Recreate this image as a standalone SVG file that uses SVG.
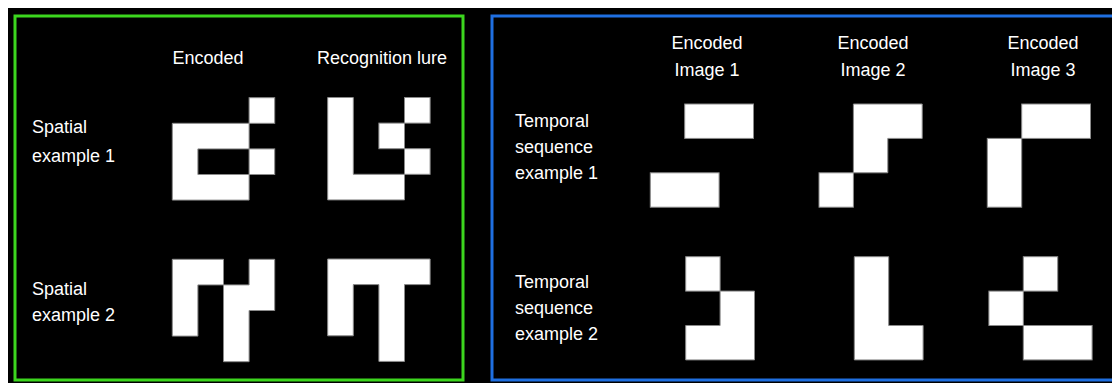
<svg xmlns="http://www.w3.org/2000/svg" width="1112" height="383" viewBox="0 0 1112 383">
<style>
.t{font-family:"Liberation Sans",Arial,sans-serif;font-size:18px;fill:#ffffff;}
.c{text-anchor:middle;}
.s{fill:#ffffff;stroke:#8a8a8a;stroke-width:1;}
</style>
<rect x="0" y="0" width="1112" height="383" fill="#ffffff"/>
<rect x="8" y="8" width="1104" height="375" fill="#000000"/>
<rect id="panel-spatial" x="15" y="16" width="448" height="364" fill="none" stroke="#3cd61e" stroke-width="3"/>
<rect id="panel-temporal" x="492" y="16" width="630" height="364" fill="none" stroke="#1f6fe0" stroke-width="3"/>
<g id="labels">
<text class="t c" x="208" y="64">Encoded</text>
<text class="t c" x="382" y="64">Recognition lure</text>
<text class="t" x="32" y="133">Spatial</text>
<text class="t" x="32" y="162">example 1</text>
<text class="t" x="32" y="295">Spatial</text>
<text class="t" x="32" y="321">example 2</text>
<text class="t c" x="707" y="49">Encoded</text>
<text class="t c" x="707" y="76">Image 1</text>
<text class="t c" x="873" y="49">Encoded</text>
<text class="t c" x="873" y="76">Image 2</text>
<text class="t c" x="1043" y="49">Encoded</text>
<text class="t c" x="1043" y="76">Image 3</text>
<text class="t" x="515" y="127">Temporal</text>
<text class="t" x="515" y="153">sequence</text>
<text class="t" x="515" y="179">example 1</text>
<text class="t" x="515" y="288">Temporal</text>
<text class="t" x="515" y="314">sequence</text>
<text class="t" x="515" y="340">example 2</text>
</g>
<g id="spatial1-encoded">
<rect class="s" x="249.1" y="97.7" width="25.6" height="25.6"/>
<path class="s" d="M172.3,123.3 H249.1 V148.9 H197.9 V174.5 H249.1 V200.1 H172.3 Z"/>
<rect class="s" x="249.1" y="148.9" width="25.6" height="25.6"/>
</g>
<g id="spatial1-lure">
<path class="s" d="M327.7,97.5 H353.3 V174.3 H404.5 V199.9 H327.7 Z"/>
<rect class="s" x="404.5" y="97.5" width="25.6" height="25.6"/>
<rect class="s" x="378.9" y="123.1" width="25.6" height="25.6"/>
<rect class="s" x="404.5" y="148.7" width="25.6" height="25.6"/>
</g>
<g id="spatial2-encoded">
<path class="s" d="M172.3,259.3 H223.5 V284.9 H197.9 V336.1 H172.3 Z"/>
<path class="s" d="M249.1,259.3 H274.7 V310.5 H249.1 V361.7 H223.5 V284.9 H249.1 Z"/>
</g>
<g id="spatial2-lure">
<path class="s" d="M327.7,259 H430.1 V284.6 H404.5 V361.4 H378.9 V284.6 H353.3 V335.8 H327.7 Z"/>
</g>
<g id="temporal1-img1">
<rect class="s" x="684.7" y="104" width="68.8" height="34.4"/>
<rect class="s" x="650.3" y="172.8" width="68.8" height="34.4"/>
</g>
<g id="temporal1-img2">
<path class="s" d="M853.4,104 H922.2 V138.4 H887.8 V172.8 H853.4 Z"/>
<rect class="s" x="819" y="172.8" width="34.4" height="34.4"/>
</g>
<g id="temporal1-img3">
<rect class="s" x="1021.7" y="104" width="68.8" height="34.4"/>
<rect class="s" x="987.3" y="138.4" width="34.4" height="68.8"/>
</g>
<g id="temporal2-img1">
<rect class="s" x="685.7" y="256.7" width="34.4" height="34.4"/>
<path class="s" d="M720.1,291.1 H754.5 V359.9 H685.7 V325.5 H720.1 Z"/>
</g>
<g id="temporal2-img2">
<path class="s" d="M854.3,256.7 H888.7 V325.5 H923.1 V359.9 H854.3 Z"/>
</g>
<g id="temporal2-img3">
<rect class="s" x="1023.3" y="256.7" width="34.4" height="34.4"/>
<rect class="s" x="988.9" y="291.1" width="34.4" height="34.4"/>
<rect class="s" x="1023.3" y="325.5" width="68.8" height="34.4"/>
</g>
<g id="connectors"/>
</svg>
